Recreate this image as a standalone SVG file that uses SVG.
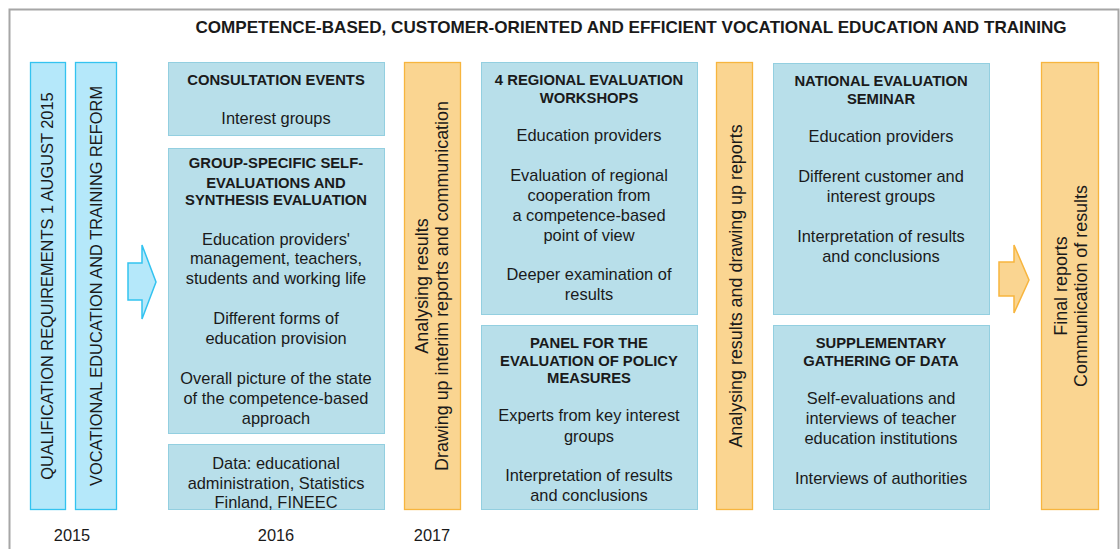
<svg xmlns="http://www.w3.org/2000/svg" width="1120" height="549" viewBox="0 0 1120 549">
<style>
text{font-family:"Liberation Sans",Arial,sans-serif;fill:#1a1a1a;text-anchor:middle}
.t{font-size:16.4px}
.v{font-size:17.9px}
.h{font-size:14.8px;font-weight:bold}
.ti{font-size:17.1px;font-weight:bold}
.box{fill:#b8dfea;stroke:#93cfe0;stroke-width:1}
.bar{fill:#b5e8fa;stroke:#33c3f0;stroke-width:1.3}
.or{fill:#fad591;stroke:#f7b53e;stroke-width:1.3}
.ab{fill:#b5e8fa;stroke:#33c3f0;stroke-width:1.5}
.ao{fill:#fad591;stroke:#f7b53e;stroke-width:1.5}
</style>
<rect width="1120" height="549" fill="#fff"/>
<rect x="9.5" y="9.5" width="1109" height="560" fill="none" stroke="#a6a6a6" stroke-width="2"/>
<text class="ti" x="631" y="33">COMPETENCE-BASED, CUSTOMER-ORIENTED AND EFFICIENT VOCATIONAL EDUCATION AND TRAINING</text>

<g id="bar-qualification">
<rect class="bar" x="30.5" y="62.5" width="35" height="447"/>
<text class="t" transform="translate(53,286) rotate(-90)">QUALIFICATION REQUIREMENTS 1 AUGUST 2015</text>
</g>
<g id="bar-reform">
<rect class="bar" x="75.5" y="62.5" width="41" height="447"/>
<text class="t" transform="translate(102,286) rotate(-90)">VOCATIONAL EDUCATION AND TRAINING REFORM</text>
</g>

<g id="connectors">
<path class="ab" d="M128,263 H142 V245 L156,282 L142,319 V300 H128 Z"/>
<path class="ao" d="M999,262 H1014 V245 L1029,280 L1014,313 V296 H999 Z"/>
</g>

<g id="consultation">
<rect class="box" x="168.5" y="62.5" width="216" height="73"/>
<text class="h" x="276" y="85">CONSULTATION EVENTS</text>
<text class="t" x="276" y="124">Interest groups</text>
</g>

<g id="group-specific">
<rect class="box" x="168.5" y="148.5" width="216" height="285"/>
<text class="h" x="276" y="168">GROUP-SPECIFIC SELF-</text>
<text class="h" x="276" y="188">EVALUATIONS AND</text>
<text class="h" x="276" y="205">SYNTHESIS EVALUATION</text>
<text class="t" x="276" y="245">Education providers'</text>
<text class="t" x="276" y="264">management, teachers,</text>
<text class="t" x="276" y="284">students and working life</text>
<text class="t" x="276" y="324">Different forms of</text>
<text class="t" x="276" y="344">education provision</text>
<text class="t" x="276" y="384">Overall picture of the state</text>
<text class="t" x="276" y="404">of the competence-based</text>
<text class="t" x="276" y="424">approach</text>
</g>

<g id="data">
<rect class="box" x="168.5" y="444.5" width="216" height="65"/>
<text class="t" x="276" y="469">Data: educational</text>
<text class="t" x="276" y="489">administration, Statistics</text>
<text class="t" x="276" y="508">Finland, FINEEC</text>
</g>

<g id="bar-interim">
<rect class="or" x="404.5" y="62.5" width="56" height="447"/>
<text class="v" transform="translate(428,286) rotate(-90)">Analysing results</text>
<text class="v" transform="translate(448,286) rotate(-90)">Drawing up interim reports and communication</text>
</g>

<g id="regional">
<rect class="box" x="481.5" y="62.5" width="216" height="252"/>
<text class="h" x="589" y="85">4 REGIONAL EVALUATION</text>
<text class="h" x="589" y="103">WORKSHOPS</text>
<text class="t" x="589" y="141">Education providers</text>
<text class="t" x="589" y="181">Evaluation of regional</text>
<text class="t" x="589" y="201">cooperation from</text>
<text class="t" x="589" y="221">a competence-based</text>
<text class="t" x="589" y="241">point of view</text>
<text class="t" x="589" y="280">Deeper examination of</text>
<text class="t" x="589" y="300">results</text>
</g>

<g id="panel">
<rect class="box" x="481.5" y="325.5" width="216" height="184"/>
<text class="h" x="589" y="348">PANEL FOR THE</text>
<text class="h" x="589" y="366">EVALUATION OF POLICY</text>
<text class="h" x="589" y="383">MEASURES</text>
<text class="t" x="589" y="421">Experts from key interest</text>
<text class="t" x="589" y="442">groups</text>
<text class="t" x="589" y="481">Interpretation of results</text>
<text class="t" x="589" y="501">and conclusions</text>
</g>

<g id="bar-reports">
<rect class="or" x="716.5" y="62.5" width="36" height="447"/>
<text class="v" transform="translate(742,286) rotate(-90)">Analysing results and drawing up reports</text>
</g>

<g id="national">
<rect class="box" x="773.5" y="63.5" width="216" height="251"/>
<text class="h" x="881" y="86">NATIONAL EVALUATION</text>
<text class="h" x="881" y="104">SEMINAR</text>
<text class="t" x="881" y="142">Education providers</text>
<text class="t" x="881" y="182">Different customer and</text>
<text class="t" x="881" y="202">interest groups</text>
<text class="t" x="881" y="242">Interpretation of results</text>
<text class="t" x="881" y="262">and conclusions</text>
</g>

<g id="supplementary">
<rect class="box" x="773.5" y="325.5" width="216" height="184"/>
<text class="h" x="881" y="348">SUPPLEMENTARY</text>
<text class="h" x="881" y="366">GATHERING OF DATA</text>
<text class="t" x="881" y="404">Self-evaluations and</text>
<text class="t" x="881" y="424">interviews of teacher</text>
<text class="t" x="881" y="444">education institutions</text>
<text class="t" x="881" y="484">Interviews of authorities</text>
</g>

<g id="bar-final">
<rect class="or" x="1041.5" y="62.5" width="57" height="447"/>
<text class="v" transform="translate(1067,286) rotate(-90)">Final reports</text>
<text class="v" transform="translate(1087,286) rotate(-90)">Communication of results</text>
</g>

<g id="years">
<text class="t" x="72" y="541">2015</text>
<text class="t" x="276" y="541">2016</text>
<text class="t" x="432" y="541">2017</text>
</g>
</svg>
